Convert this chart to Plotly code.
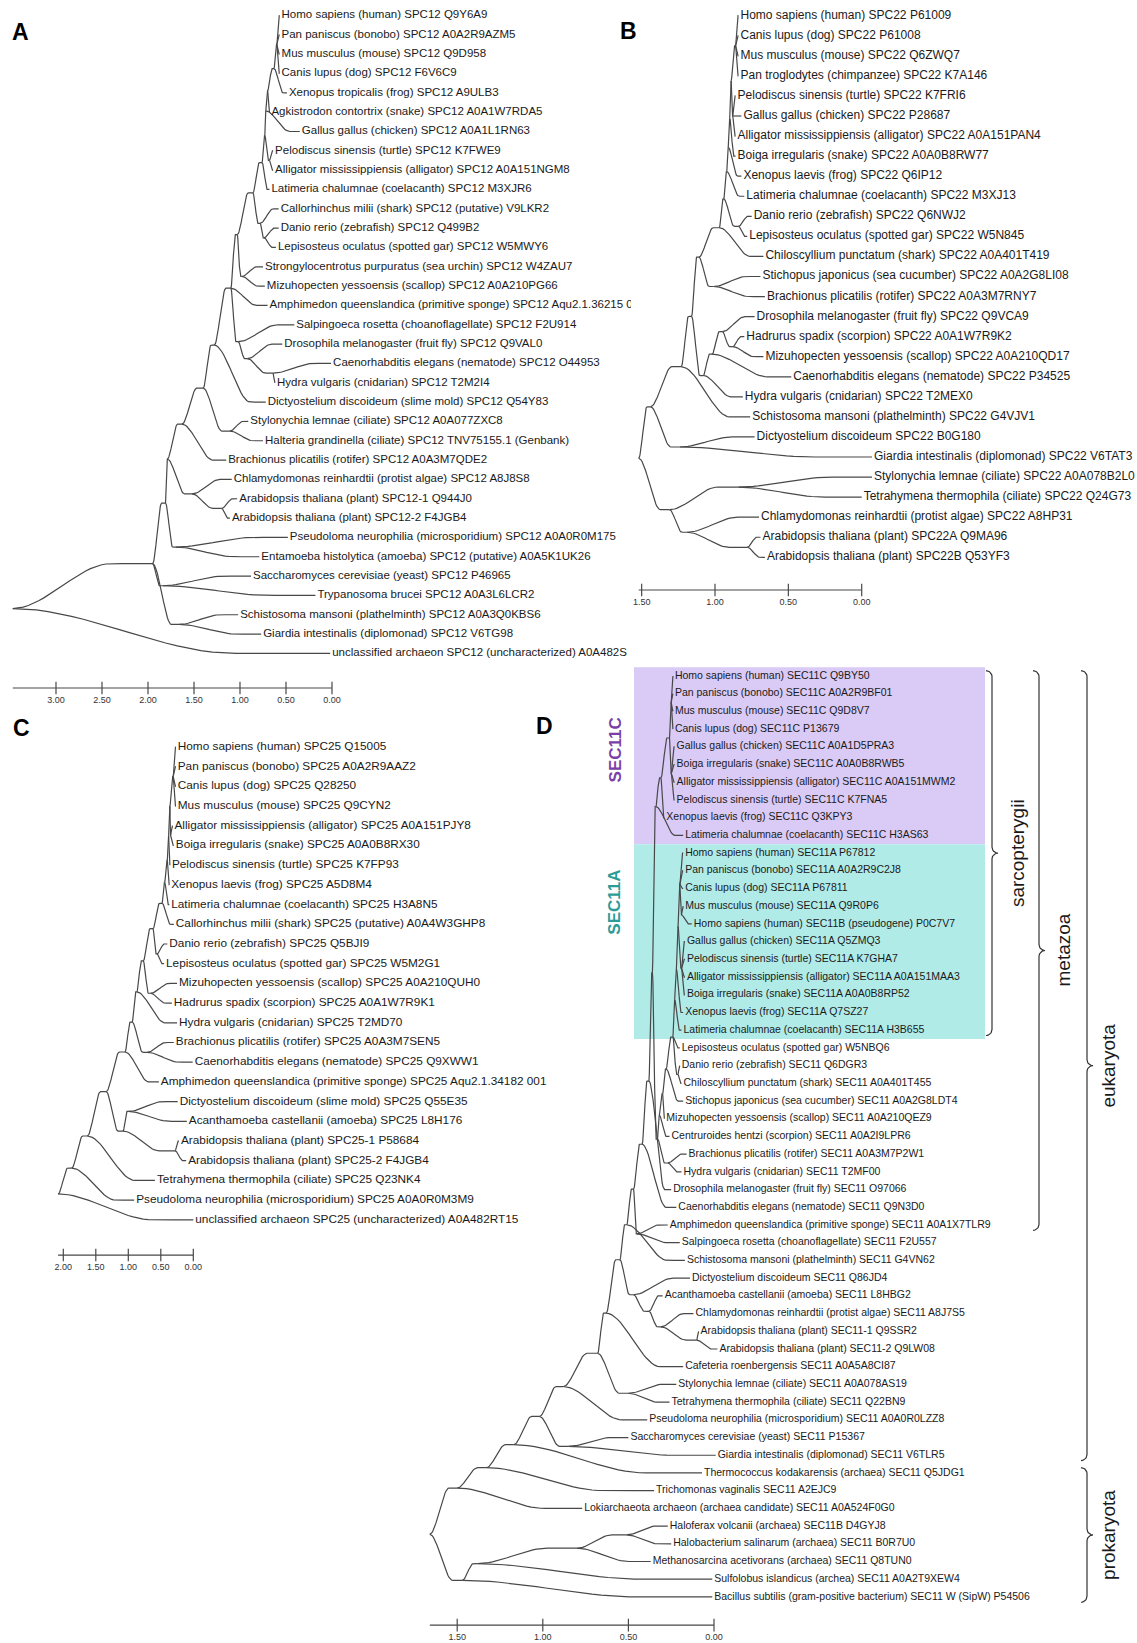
import numpy as np
import plotly.graph_objects as go

# ---------------------------------------------------------------- data
# Trees are written in Newick form: leaves are indices into the label list and the
# number after every ':' is the node's position on the scale bar (0.00 = right end).

A_labels = [
    "Homo sapiens (human) SPC12 Q9Y6A9",
    "Pan paniscus (bonobo) SPC12 A0A2R9AZM5",
    "Mus musculus (mouse) SPC12 Q9D958",
    "Canis lupus (dog) SPC12 F6V6C9",
    "Xenopus tropicalis (frog) SPC12 A9ULB3",
    "Agkistrodon contortrix (snake) SPC12 A0A1W7RDA5",
    "Gallus gallus (chicken) SPC12 A0A1L1RN63",
    "Pelodiscus sinensis (turtle) SPC12 K7FWE9",
    "Alligator mississippiensis (alligator) SPC12 A0A151NGM8",
    "Latimeria chalumnae (coelacanth) SPC12 M3XJR6",
    "Callorhinchus milii (shark) SPC12 (putative) V9LKR2",
    "Danio rerio (zebrafish) SPC12 Q499B2",
    "Lepisosteus oculatus (spotted gar) SPC12 W5MWY6",
    "Strongylocentrotus purpuratus (sea urchin) SPC12 W4ZAU7",
    "Mizuhopecten yessoensis (scallop) SPC12 A0A210PG66",
    "Amphimedon queenslandica (primitive sponge) SPC12 Aqu2.1.36215 001",
    "Salpingoeca rosetta (choanoflagellate) SPC12 F2U914",
    "Drosophila melanogaster (fruit fly) SPC12 Q9VAL0",
    "Caenorhabditis elegans (nematode) SPC12 O44953",
    "Hydra vulgaris (cnidarian) SPC12 T2M2I4",
    "Dictyostelium discoideum (slime mold) SPC12 Q54Y83",
    "Stylonychia lemnae (ciliate) SPC12 A0A077ZXC8",
    "Halteria grandinella (ciliate) SPC12 TNV75155.1 (Genbank)",
    "Brachionus plicatilis (rotifer) SPC12 A0A3M7QDE2",
    "Chlamydomonas reinhardtii (protist algae) SPC12 A8J8S8",
    "Arabidopsis thaliana (plant) SPC12-1 Q944J0",
    "Arabidopsis thaliana (plant) SPC12-2 F4JGB4",
    "Pseudoloma neurophilia (microsporidium) SPC12 A0A0R0M175",
    "Entamoeba histolytica (amoeba) SPC12 (putative) A0A5K1UK26",
    "Saccharomyces cerevisiae (yeast) SPC12 P46965",
    "Trypanosoma brucei SPC12 A0A3L6LCR2",
    "Schistosoma mansoni (plathelminth) SPC12 A0A3Q0KBS6",
    "Giardia intestinalis (diplomonad) SPC12 V6TG98",
    "unclassified archaeon SPC12 (uncharacterized) A0A482S",
]
A_tree = ("((((((((((((((((0:0.57,1:0.57,2:0.57,3:0.57):0.60,4:0.49):0.63,5:0.68):0.70,"
          "6:0.35):0.72,(7:0.64,8:0.64):0.68):0.73,9:0.68):0.76,(10:0.58,(11:0.58,12:0.61):0.74)"
          ":0.78):0.86,(13:0.75,14:0.73):0.98):1.03,15:0.70,(16:0.41,(17:0.54,(18:0.01,19:0.62)"
          ":0.64):0.92):1.02):1.10,20:0.72):1.28,(21:0.91,22:0.75):1.11):1.40,23:1.15):1.63,"
          "(24:1.09,(25:1.03,26:1.11):1.20):1.52):1.79,(27:0.48,28:0.79):1.70):1.81,"
          "(29:0.88,30:0.18):1.84,(31:1.02,32:0.77):1.66):1.95,33:0.02):3.47")
A_scale = [3.00, 2.50, 2.00, 1.50, 1.00, 0.50, 0.00]

B_labels = [
    "Homo sapiens (human) SPC22 P61009",
    "Canis lupus (dog) SPC22 P61008",
    "Mus musculus (mouse) SPC22 Q6ZWQ7",
    "Pan troglodytes (chimpanzee) SPC22 K7A146",
    "Pelodiscus sinensis (turtle) SPC22 K7FRI6",
    "Gallus gallus (chicken) SPC22 P28687",
    "Alligator mississippiensis (alligator) SPC22 A0A151PAN4",
    "Boiga irregularis (snake) SPC22 A0A0B8RW77",
    "Xenopus laevis (frog) SPC22 Q6IP12",
    "Latimeria chalumnae (coelacanth) SPC22 M3XJ13",
    "Danio rerio (zebrafish) SPC22 Q6NWJ2",
    "Lepisosteus oculatus (spotted gar) SPC22 W5N845",
    "Chiloscyllium punctatum (shark) SPC22 A0A401T419",
    "Stichopus japonicus (sea cucumber) SPC22 A0A2G8LI08",
    "Brachionus plicatilis (rotifer) SPC22 A0A3M7RNY7",
    "Drosophila melanogaster (fruit fly) SPC22 Q9VCA9",
    "Hadrurus spadix (scorpion) SPC22 A0A1W7R9K2",
    "Mizuhopecten yessoensis (scallop) SPC22 A0A210QD17",
    "Caenorhabditis elegans (nematode) SPC22 P34525",
    "Hydra vulgaris (cnidarian) SPC22 T2MEX0",
    "Schistosoma mansoni (plathelminth) SPC22 G4VJV1",
    "Dictyostelium discoideum SPC22 B0G180",
    "Giardia intestinalis (diplomonad) SPC22 V6TAT3",
    "Stylonychia lemnae (ciliate) SPC22 A0A078B2L0",
    "Tetrahymena thermophila (ciliate) SPC22 Q24G73",
    "Chlamydomonas reinhardtii (protist algae) SPC22 A8HP31",
    "Arabidopsis thaliana (plant) SPC22A Q9MA96",
    "Arabidopsis thaliana (plant) SPC22B Q53YF3",
]
B_tree = ("((((((((((((0:0.84,1:0.84,2:0.84,3:0.84):0.86,(4:0.86,5:0.82,6:0.86):0.88):0.89,"
          "7:0.86):0.90,8:0.82):0.91,9:0.80):0.92,(10:0.75,11:0.78):0.84):0.94,12:0.67):0.97,"
          "(13:0.69,14:0.66):1.01):1.11,(((15:0.73,(16:0.80,17:0.67):0.88):0.95,18:0.48):1.02,"
          "19:0.81):1.08):1.16,20:0.76):1.23,(21:0.73,22:-0.07):1.24):1.44,((23:-0.07,24:0.00)"
          ":0.84,(25:0.70,(26:0.69,27:0.66):0.78):1.19):1.31):1.52")
B_scale = [1.50, 1.00, 0.50, 0.00]

C_labels = [
    "Homo sapiens (human) SPC25 Q15005",
    "Pan paniscus (bonobo) SPC25 A0A2R9AAZ2",
    "Canis lupus (dog) SPC25 Q28250",
    "Mus musculus (mouse) SPC25 Q9CYN2",
    "Alligator mississippiensis (alligator) SPC25 A0A151PJY8",
    "Boiga irregularis (snake) SPC25 A0A0B8RX30",
    "Pelodiscus sinensis (turtle) SPC25 K7FP93",
    "Xenopus laevis (frog) SPC25 A5D8M4",
    "Latimeria chalumnae (coelacanth) SPC25 H3A8N5",
    "Callorhinchus milii (shark) SPC25 (putative) A0A4W3GHP8",
    "Danio rerio (zebrafish) SPC25 Q5BJI9",
    "Lepisosteus oculatus (spotted gar) SPC25 W5M2G1",
    "Mizuhopecten yessoensis (scallop) SPC25 A0A210QUH0",
    "Hadrurus spadix (scorpion) SPC25 A0A1W7R9K1",
    "Hydra vulgaris (cnidarian) SPC25 T2MD70",
    "Brachionus plicatilis (rotifer) SPC25 A0A3M7SEN5",
    "Caenorhabditis elegans (nematode) SPC25 Q9XWW1",
    "Amphimedon queenslandica (primitive sponge) SPC25 Aqu2.1.34182 001",
    "Dictyostelium discoideum (slime mold) SPC25 Q55E35",
    "Acanthamoeba castellanii (amoeba) SPC25 L8H176",
    "Arabidopsis thaliana (plant) SPC25-1 P58684",
    "Arabidopsis thaliana (plant) SPC25-2 F4JGB4",
    "Tetrahymena thermophila (ciliate) SPC25 Q23NK4",
    "Pseudoloma neurophilia (microsporidium) SPC25 A0A0R0M3M9",
    "unclassified archaeon SPC25 (uncharacterized) A0A482RT15",
]
C_tree = ("(((((((((((((((0:0.27,1:0.27,2:0.27,3:0.27):0.31,(4:0.32,5:0.30):0.35):0.36,6:0.36)"
          ":0.38,7:0.37):0.40,8:0.37):0.44,9:0.30):0.48,(10:0.40,11:0.45):0.56):0.62,"
          "(12:0.25,13:0.33):0.66):0.77,14:0.25):0.87,(15:0.30,16:0.01):0.71):0.94,17:0.53)"
          ":1.05,((18:0.24,19:0.10):1.00,(20:0.22,21:0.11):0.28):1.08):1.34,22:0.59):1.63,"
          "23:0.91):1.87,24:0.00):2.08")
C_scale = [2.00, 1.50, 1.00, 0.50, 0.00]

D_labels = [
    "Homo sapiens (human) SEC11C Q9BY50",
    "Pan paniscus (bonobo) SEC11C A0A2R9BF01",
    "Mus musculus (mouse) SEC11C Q9D8V7",
    "Canis lupus (dog) SEC11C P13679",
    "Gallus gallus (chicken) SEC11C A0A1D5PRA3",
    "Boiga irregularis (snake) SEC11C A0A0B8RWB5",
    "Alligator mississippiensis (alligator) SEC11C A0A151MWM2",
    "Pelodiscus sinensis (turtle) SEC11C K7FNA5",
    "Xenopus laevis (frog) SEC11C Q3KPY3",
    "Latimeria chalumnae (coelacanth) SEC11C H3AS63",
    "Homo sapiens (human) SEC11A P67812",
    "Pan paniscus (bonobo) SEC11A A0A2R9C2J8",
    "Canis lupus (dog) SEC11A P67811",
    "Mus musculus (mouse) SEC11A Q9R0P6",
    "Homo sapiens (human) SEC11B (pseudogene) P0C7V7",
    "Gallus gallus (chicken) SEC11A Q5ZMQ3",
    "Pelodiscus sinensis (turtle) SEC11A K7GHA7",
    "Alligator mississippiensis (alligator) SEC11A A0A151MAA3",
    "Boiga irregularis (snake) SEC11A A0A0B8RP52",
    "Xenopus laevis (frog) SEC11A Q7SZ27",
    "Latimeria chalumnae (coelacanth) SEC11A H3B655",
    "Lepisosteus oculatus (spotted gar) W5NBQ6",
    "Danio rerio (zebrafish) SEC11 Q6DGR3",
    "Chiloscyllium punctatum (shark) SEC11 A0A401T455",
    "Stichopus japonicus (sea cucumber) SEC11 A0A2G8LDT4",
    "Mizuhopecten yessoensis (scallop) SEC11 A0A210QEZ9",
    "Centruroides hentzi (scorpion) SEC11 A0A2I9LPR6",
    "Brachionus plicatilis (rotifer) SEC11 A0A3M7P2W1",
    "Hydra vulgaris (cnidarian) SEC11 T2MF00",
    "Drosophila melanogaster (fruit fly) SEC11 O97066",
    "Caenorhabditis elegans (nematode) SEC11 Q9N3D0",
    "Amphimedon queenslandica (primitive sponge) SEC11 A0A1X7TLR9",
    "Salpingoeca rosetta (choanoflagellate) SEC11 F2U557",
    "Schistosoma mansoni (plathelminth) SEC11 G4VN62",
    "Dictyostelium discoideum SEC11 Q86JD4",
    "Acanthamoeba castellanii (amoeba) SEC11 L8HBG2",
    "Chlamydomonas reinhardtii (protist algae) SEC11 A8J7S5",
    "Arabidopsis thaliana (plant) SEC11-1 Q9SSR2",
    "Arabidopsis thaliana (plant) SEC11-2 Q9LW08",
    "Cafeteria roenbergensis SEC11 A0A5A8CI87",
    "Stylonychia lemnae (ciliate) SEC11 A0A078AS19",
    "Tetrahymena thermophila (ciliate) SEC11 Q22BN9",
    "Pseudoloma neurophilia (microsporidium) SEC11 A0A0R0LZZ8",
    "Saccharomyces cerevisiae (yeast) SEC11 P15367",
    "Giardia intestinalis (diplomonad) SEC11 V6TLR5",
    "Thermococcus kodakarensis (archaea) SEC11 Q5JDG1",
    "Trichomonas vaginalis SEC11 A2EJC9",
    "Lokiarchaeota archaeon (archaea candidate) SEC11 A0A524F0G0",
    "Haloferax volcanii (archaea) SEC11B D4GYJ8",
    "Halobacterium salinarum (archaea) SEC11 B0R7U0",
    "Methanosarcina acetivorans (archaea) SEC11 Q8TUN0",
    "Sulfolobus islandicus (archea) SEC11 A0A2T9XEW4",
    "Bacillus subtilis (gram-positive bacterium) SEC11 W (SipW) P54506",
]
D_tree = ("((((((((((((((((((0:0.24,1:0.24,2:0.24,3:0.24):0.25,(4:0.23,5:0.23,6:0.23,7:0.23)"
          ":0.25):0.26,8:0.29):0.31,9:0.18):0.34,(((((((((10:0.18,11:0.18,12:0.18,(13:0.18,"
          "14:0.13):0.19):0.20,(15:0.17,16:0.17,17:0.17,18:0.17):0.19):0.21,19:0.18):0.22,"
          "20:0.19):0.23,21:0.20,(22:0.20,23:0.19):0.21):0.24,24:0.18):0.28,25:0.29):0.30,"
          "26:0.26):0.32,(27:0.16,28:0.19):0.27):0.33):0.36,29:0.25):0.38,30:0.22):0.42,"
          "(31:0.27,32:0.20):0.45):0.47,33:0.17):0.51,(34:0.14,(35:0.30,(36:0.12,(37:0.09,"
          "38:-0.02):0.10):0.31):0.38):0.47):0.55,39:0.18):0.63,(40:0.22,41:0.26):0.50):0.68,"
          "42:0.39):0.88,(43:0.50,44:-0.01):0.85):1.02,45:0.07):1.17,46:0.35):1.33,47:0.77)"
          ":1.50,((((48:0.27,49:0.25):0.51,50:0.37):0.80,51:0.01):1.38,52:0.01):1.47):1.66")
D_scale = [1.50, 1.00, 0.50, 0.00]

# highlighted paralogue clades and bracketed taxonomic groups of panel D (leaf index ranges)
D_clades = ["SEC11C", "SEC11A"]
D_clade_first = [0, 10]
D_clade_last = [9, 20]
D_groups = ["sarcopterygii", "metazoa", "eukaryota", "prokaryota"]
D_group_first = [0, 0, 0, 45]
D_group_last = [20, 31, 44, 52]

# ---------------------------------------------------------------- style
W, H = 1137, 1643
LINE = "#484848"
TEXT = "#1a1a1a"
FONT = "Liberation Sans, Arial, sans-serif"
NARROW = "Liberation Sans Narrow, Arial Narrow, Liberation Sans, Arial, sans-serif"

# pixel calibration per panel: x of 0.00 tick, px per unit, y of first leaf, leaf pitch
panels = [
    dict(letter="A", labels=A_labels, tree=A_tree, scale=A_scale, ax=1,
         x0=332.0, ppu=92.0, y0=15.5, pitch=19.33, dom=(0, 631, 0, 715),
         fs=11.5, bar=1.79, lpos=(20, 32)),
    dict(letter="B", labels=B_labels, tree=B_tree, scale=B_scale, ax=2,
         x0=861.7, ppu=146.7, y0=15.7, pitch=20.06, dom=(615, 1137, 0, 620),
         fs=12.0, bar=1.63, lpos=(628, 31)),
    dict(letter="C", labels=C_labels, tree=C_tree, scale=C_scale, ax=3,
         x0=193.3, ppu=65.0, y0=747.0, pitch=19.7, dom=(0, 600, 700, 1290),
         fs=11.8, bar=1.79, lpos=(21, 728)),
    dict(letter="D", labels=D_labels, tree=D_tree, scale=D_scale, ax=4,
         x0=714.0, ppu=171.2, y0=676.0, pitch=17.71, dom=(420, 1137, 640, 1643),
         fs=10.5, bar=1.59, lpos=(544, 726)),
]
LABEL_GAP_PX = 2.0


# ---------------------------------------------------------------- tree helpers
def parse_newick(text):
    s = "".join(text.split())
    pos = 0

    def node():
        nonlocal pos
        kids, leaf = [], None
        if s[pos] == "(":
            pos += 1
            kids.append(node())
            while s[pos] == ",":
                pos += 1
                kids.append(node())
            assert s[pos] == ")"
            pos += 1
        else:
            start = pos
            while s[pos] not in ":,)":
                pos += 1
            leaf = int(s[start:pos])
        x = None
        if pos < len(s) and s[pos] == ":":
            pos += 1
            start = pos
            while pos < len(s) and s[pos] not in ",)":
                pos += 1
            x = float(s[start:pos])
        return {"kids": kids, "leaf": leaf, "x": x}

    root = node()
    assert pos == len(s)
    return root


def place(n):
    if n["leaf"] is not None:
        n["y"] = float(n["leaf"])
    else:
        for k in n["kids"]:
            place(k)
        n["y"] = 0.5 * (n["kids"][0]["y"] + n["kids"][-1]["y"])


def curved_branch(xp, yp, xc, yc, frac=0.7, n=28):
    t = np.linspace(0.0, 1.0, n)
    s = np.clip(t / frac, 0.0, 1.0)
    xs = xp + (xc - xp) * t
    ys = yp + (yc - yp) * (3 * s ** 2 - 2 * s ** 3)
    return xs, ys


def collect(n, bx, by, tips):
    if n["leaf"] is not None:
        tips.append((n["leaf"], n["x"]))
    for k in n["kids"]:
        xs, ys = curved_branch(n["x"], n["y"], k["x"], k["y"])
        bx.extend(xs.tolist() + [None])
        by.extend(ys.tolist() + [None])
        collect(k, bx, by, tips)


fig = go.Figure()
annotations = []
shapes = []
layout_axes = {}

for p in panels:
    i = p["ax"]
    xs_name = "x" if i == 1 else f"x{i}"
    ys_name = "y" if i == 1 else f"y{i}"
    dx0, dx1, dy0, dy1 = p["dom"]
    layout_axes["xaxis" if i == 1 else f"xaxis{i}"] = dict(
        domain=[dx0 / W, dx1 / W],
        range=[(p["x0"] - dx0) / p["ppu"], (p["x0"] - dx1) / p["ppu"]],
        visible=False, fixedrange=True, anchor=ys_name)
    layout_axes["yaxis" if i == 1 else f"yaxis{i}"] = dict(
        domain=[1 - dy1 / H, 1 - dy0 / H],
        range=[(dy1 - p["y0"]) / p["pitch"], (dy0 - p["y0"]) / p["pitch"]],
        visible=False, fixedrange=True, anchor=xs_name)

    root = parse_newick(p["tree"])
    place(root)
    bx, by, tips = [], [], []
    collect(root, bx, by, tips)
    tips.sort()

    fig.add_trace(go.Scatter(x=bx, y=by, mode="lines", xaxis=xs_name, yaxis=ys_name,
                             line=dict(color=LINE, width=1.2), hoverinfo="skip",
                             showlegend=False))
    gap = LABEL_GAP_PX / p["ppu"]
    fig.add_trace(go.Scatter(x=[t[1] - gap for t in tips], y=[t[0] for t in tips],
                             mode="text", text=[p["labels"][t[0]] for t in tips],
                             textposition="middle right", xaxis=xs_name, yaxis=ys_name,
                             textfont=dict(family=FONT, size=p["fs"], color=TEXT),
                             hoverinfo="skip", showlegend=False))

    # scale bar: from the root position to 0.00
    ybar = len(p["labels"]) - 1 + p["bar"]
    fig.add_trace(go.Scatter(x=[root["x"], min(p["scale"])], y=[ybar, ybar], mode="lines",
                             xaxis=xs_name, yaxis=ys_name, line=dict(color=LINE, width=1.2),
                             hoverinfo="skip", showlegend=False))
    fig.add_trace(go.Scatter(x=p["scale"], y=[ybar] * len(p["scale"]), mode="markers",
                             xaxis=xs_name, yaxis=ys_name,
                             marker=dict(symbol="line-ns", size=9,
                                         line=dict(color=LINE, width=1.2)),
                             hoverinfo="skip", showlegend=False))
    fig.add_trace(go.Scatter(x=p["scale"], y=[ybar + 13.0 / p["pitch"]] * len(p["scale"]),
                             mode="text", text=[f"{v:.2f}" for v in p["scale"]],
                             textposition="middle center", xaxis=xs_name, yaxis=ys_name,
                             textfont=dict(family=FONT, size=9, color="#333333"),
                             hoverinfo="skip", showlegend=False))

    annotations.append(dict(text=f"<b>{p['letter']}</b>", x=p["lpos"][0] / W,
                            y=1 - p["lpos"][1] / H, xref="paper", yref="paper",
                            xanchor="center", yanchor="middle", showarrow=False,
                            font=dict(family=FONT, size=23, color="#000000")))

# ---------------------------------------------------------------- panel D decorations
pD = panels[3]


def u_of(px):
    return (pD["x0"] - px) / pD["ppu"]


def idx_of(py):
    return (py - pD["y0"]) / pD["pitch"]


def py_of(idx):
    return pD["y0"] + pD["pitch"] * idx


clade_fill = ["#d9caf6", "#b1ebe8"]
clade_ink = ["#7b3fa8", "#2b9c98"]
clade_label_at = [4.2, 12.8]
box_left_px, box_right_px = 634, 985
for k, name in enumerate(D_clades):
    shapes.append(dict(type="rect", xref="x4", yref="y4", layer="below",
                       x0=u_of(box_left_px), x1=u_of(box_right_px),
                       y0=D_clade_first[k] - 0.5, y1=D_clade_last[k] + 0.5,
                       fillcolor=clade_fill[k], line=dict(width=0)))
    annotations.append(dict(text=f"<b>{name}</b>", x=u_of(615), y=clade_label_at[k],
                            xref="x4", yref="y4", textangle=-90, showarrow=False,
                            xanchor="center", yanchor="middle",
                            font=dict(family=FONT, size=17, color=clade_ink[k])))


def brace(x_left, w, top, bot):
    r = w / 2.0
    mid = 0.5 * (top + bot)
    pts = []

    def arc(cx, cy, a0, a1):
        for a in np.linspace(np.radians(a0), np.radians(a1), 10):
            pts.append((cx + r * np.cos(a), cy + r * np.sin(a)))

    arc(x_left, top + r, -90, 0)
    arc(x_left + 2 * r, mid - r, 180, 90)
    arc(x_left + 2 * r, mid + r, -90, -180)
    arc(x_left, bot - r, 0, 90)
    return [u_of(q[0]) for q in pts], [idx_of(q[1]) for q in pts]


brace_px = [986, 1033, 1081, 1081]
group_label_px = [1017, 1063, 1109, 1109]
bxs, bys = [], []
for k, name in enumerate(D_groups):
    top = py_of(D_group_first[k] - 0.3)
    bot = py_of(D_group_last[k] + 0.3)
    xs, ys = brace(brace_px[k], 12, top, bot)
    bxs.extend(xs + [None])
    bys.extend(ys + [None])
    annotations.append(dict(text=name, x=u_of(group_label_px[k]),
                            y=0.5 * (D_group_first[k] + D_group_last[k]),
                            xref="x4", yref="y4", textangle=-90, showarrow=False,
                            xanchor="center", yanchor="middle",
                            font=dict(family=NARROW, size=19, color="#1a1a1a")))
fig.add_trace(go.Scatter(x=bxs, y=bys, mode="lines", xaxis="x4", yaxis="y4",
                         line=dict(color="#333333", width=1.2), hoverinfo="skip",
                         showlegend=False))

fig.update_layout(width=W, height=H, margin=dict(l=0, r=0, t=0, b=0),
                  paper_bgcolor="white", plot_bgcolor="rgba(0,0,0,0)",
                  showlegend=False, annotations=annotations, shapes=shapes,
                  **layout_axes)
fig.write_html("out.html")
